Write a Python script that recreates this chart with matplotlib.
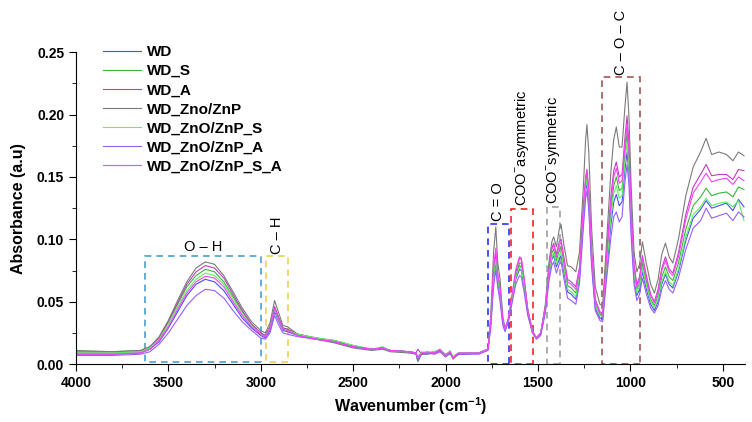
import matplotlib
matplotlib.use("Agg")
import matplotlib.pyplot as plt
from matplotlib.patches import Rectangle
from matplotlib.ticker import MultipleLocator

plt.rcParams['font.family'] = ['Liberation Sans', 'DejaVu Sans']
plt.rcParams['mathtext.fontset'] = 'custom'
plt.rcParams['mathtext.rm'] = 'Liberation Sans'
plt.rcParams['mathtext.bf'] = 'Liberation Sans:bold'

# wavenumber grid (cm-1), grouped by region
wavenumber = (
    [4000, 3800, 3650, 3600, 3550, 3500, 3450, 3400, 3350, 3300, 3250, 3200, 3150, 3100, 3050, 3000]
    + [2975, 2950, 2925, 2905, 2880, 2855, 2800, 2700, 2600, 2500, 2400, 2340, 2300, 2200, 2160, 2150,
       2130, 2100, 2060, 2030, 2000, 1975, 1960, 1930, 1900]
    + [1820, 1770, 1755, 1740, 1728, 1718, 1705, 1690, 1678, 1660, 1640, 1620, 1600, 1590, 1575, 1555,
       1530, 1508]
    + [1485, 1460, 1440, 1425, 1415, 1400, 1385, 1375, 1360, 1340, 1320, 1295, 1275, 1255, 1242, 1235,
       1225, 1210, 1190, 1165, 1150]
    + [1130, 1105, 1090, 1076, 1060, 1045, 1030, 1018, 1008, 995, 980, 965, 950, 935, 915, 890, 870, 850]
    + [830, 810, 790, 770, 740, 700, 660, 620, 590, 560, 520, 480, 445, 415, 385]
)

wd = (
    [.008, .008, .009, .012, .018, .029, .042, .055, .064, .068, .066, .059, .048, .037, .029, .023]
    + [.021, .027, .042, .035, .027, .026, .023, .020, .018, .014, .012, .013, .011, .010, .009, .003,
       .009, .008, .010, .011, .006, .010, .005, .008, .009]
    + [.009, .012, .033, .068, .082, .066, .055, .033, .027, .035, .051, .068, .076, .075, .062, .041,
       .026, .021]
    + [.024, .043, .071, .084, .087, .078, .084, .087, .074, .058, .056, .052, .069, .113, .139, .145,
       .129, .083, .045, .037, .036]
    + [.072, .112, .130, .136, .127, .130, .155, .170, .154, .107, .069, .055, .060, .074, .061, .048, .043, .050]
    + [.064, .072, .064, .061, .074, .099, .117, .124, .131, .125, .127, .129, .123, .132, .126]
)

wd_s = (
    [.010, .010, .011, .014, .021, .034, .048, .062, .071, .076, .074, .066, .054, .042, .032, .025]
    + [.023, .030, .046, .038, .029, .028, .024, .021, .019, .015, .012, .013, .011, .010, .009, .004,
       .009, .009, .010, .011, .008, .010, .006, .009, .009]
    + [.009, .012, .034, .072, .086, .070, .058, .034, .028, .036, .053, .071, .079, .078, .065, .042,
       .026, .021]
    + [.025, .045, .075, .089, .092, .083, .091, .094, .081, .063, .061, .057, .074, .120, .146, .152,
       .136, .088, .049, .040, .039]
    + [.080, .124, .143, .150, .139, .141, .168, .185, .166, .116, .075, .060, .065, .081, .067, .052, .047, .055]
    + [.070, .078, .070, .067, .081, .108, .127, .134, .141, .135, .137, .138, .134, .142, .140]
)

wd_a = (
    [.009, .009, .010, .013, .021, .034, .049, .064, .074, .079, .077, .069, .056, .043, .032, .025]
    + [.023, .030, .046, .038, .029, .028, .024, .021, .018, .014, .012, .013, .011, .010, .009, .012,
       .008, .009, .008, .010, .007, .008, .006, .008, .008]
    + [.009, .012, .035, .075, .090, .072, .060, .035, .028, .036, .054, .074, .085, .084, .068, .043,
       .026, .021]
    + [.025, .046, .078, .093, .097, .088, .098, .100, .086, .068, .066, .062, .078, .125, .150, .156,
       .140, .092, .052, .042, .041]
    + [.085, .135, .155, .162, .150, .152, .180, .199, .178, .125, .080, .064, .070, .087, .072, .056, .050, .060]
    + [.077, .086, .076, .073, .089, .120, .142, .152, .160, .151, .152, .152, .148, .156, .155]
)

wd_zno = (
    [.011, .010, .011, .014, .022, .035, .051, .066, .077, .082, .080, .071, .058, .045, .034, .027]
    + [.025, .033, .051, .042, .031, .030, .024, .020, .017, .013, .011, .012, .010, .009, .008, .002,
       .008, .008, .009, .011, .006, .009, .004, .008, .008]
    + [.009, .012, .040, .090, .110, .082, .068, .038, .029, .036, .052, .070, .081, .081, .068, .044,
       .027, .021]
    + [.025, .048, .082, .098, .102, .094, .108, .112, .096, .079, .078, .074, .090, .140, .180, .192,
       .170, .110, .062, .048, .047]
    + [.095, .155, .180, .190, .174, .174, .205, .226, .200, .140, .090, .074, .080, .098, .082, .064, .057, .068]
    + [.088, .097, .086, .081, .100, .135, .158, .170, .181, .168, .170, .168, .163, .170, .167]
)

wd_zno_s = (
    [.009, .009, .010, .013, .020, .032, .046, .059, .068, .073, .071, .064, .052, .040, .031, .024]
    + [.022, .029, .044, .036, .028, .027, .024, .021, .019, .015, .012, .014, .011, .010, .009, .005,
       .010, .009, .010, .012, .007, .011, .006, .009, .009]
    + [.009, .012, .033, .070, .084, .068, .057, .034, .028, .036, .052, .070, .078, .077, .064, .042,
       .026, .021]
    + [.025, .044, .073, .086, .089, .080, .087, .090, .077, .060, .058, .054, .071, .116, .142, .148,
       .132, .085, .047, .039, .038]
    + [.076, .118, .137, .143, .133, .135, .161, .178, .160, .112, .072, .057, .062, .077, .064, .050, .045, .052]
    + [.066, .074, .066, .063, .076, .102, .120, .126, .133, .127, .129, .130, .126, .131, .115]
)

wd_zno_a = (
    [.007, .007, .008, .010, .016, .025, .036, .047, .055, .060, .059, .053, .043, .034, .027, .021]
    + [.020, .025, .039, .032, .025, .024, .022, .020, .018, .014, .012, .013, .011, .010, .009, .003,
       .008, .009, .009, .010, .006, .009, .005, .008, .008]
    + [.008, .011, .030, .062, .076, .062, .050, .031, .026, .034, .049, .064, .071, .070, .058, .039,
       .025, .020]
    + [.023, .041, .067, .079, .082, .073, .080, .082, .069, .053, .051, .048, .065, .108, .133, .139,
       .124, .079, .043, .035, .034]
    + [.066, .102, .118, .122, .114, .118, .145, .160, .145, .100, .064, .051, .056, .069, .057, .045, .041, .047]
    + [.060, .067, .060, .057, .069, .092, .109, .115, .125, .117, .119, .121, .115, .122, .118]
)

wd_zno_s_a = (
    [.008, .008, .009, .012, .019, .030, .044, .057, .066, .0705, .069, .062, .050, .039, .030, .024]
    + [.022, .029, .045, .037, .028, .027, .023, .020, .018, .014, .012, .013, .011, .010, .009, .006,
       .009, .010, .009, .012, .007, .010, .005, .009, .009]
    + [.009, .012, .036, .078, .093, .073, .061, .035, .028, .037, .056, .076, .086, .085, .069, .043,
       .026, .021]
    + [.025, .045, .076, .092, .096, .086, .095, .098, .084, .066, .064, .060, .076, .122, .148, .154,
       .138, .090, .050, .041, .040]
    + [.083, .130, .150, .157, .145, .147, .174, .192, .172, .120, .078, .062, .068, .085, .070, .055, .049, .058]
    + [.075, .083, .074, .071, .086, .116, .137, .146, .153, .146, .148, .149, .144, .150, .147]
)

series = [
    ("WD", wd, "#4b4bff"),
    ("WD_S", wd_s, "#3cb43c"),
    ("WD_A", wd_a, "#c03cc0"),
    ("WD_Zno/ZnP", wd_zno, "#7a7a7a"),
    ("WD_ZnO/ZnP_S", wd_zno_s, "#5ef05e"),
    ("WD_ZnO/ZnP_A", wd_zno_a, "#9a5cff"),
    ("WD_ZnO/ZnP_S_A", wd_zno_s_a, "#ff40ff"),
]

# band boxes: (label, wn_low, wn_high, y_bottom, y_top, colour, rotated)
bands = [
    ("O – H", 3000, 3627, 0.002, 0.0865, "#4a9fcf", False),
    ("C – H", 2855, 2972, 0.002, 0.0865, "#f0d050", True),
    ("C = O", 1657, 1770, 0.0005, 0.1127, "#3030ff", True),
    ("COO$^{-}$asymmetric", 1527, 1644, 0.0, 0.1247, "#ff2020", True),
    ("COO$^{-}$symmetric", 1383, 1449, 0.0, 0.126, "#a0a0a0", True),
    ("C – O – C", 950, 1153, 0.0005, 0.2297, "#a05858", True),
]

fig = plt.figure(figsize=(7.52, 4.22), dpi=100)
ax = fig.add_axes([0.101, 0.137, 0.8896, 0.7394])

for name, vals, col in series:
    ax.plot(wavenumber, vals, color=col, lw=0.8, label=name)

for label, lo, hi, y0, y1, col, rot in bands:
    ax.add_patch(Rectangle((lo, y0), hi - lo, y1 - y0, fill=False, ec=col,
                           lw=1.2, ls=(0, (4, 3)), clip_on=False))
    xc = (lo + hi) / 2
    if rot:
        ax.text(xc, y1 + 0.002, label, rotation=90, ha="center", va="bottom",
                fontsize=10.5, clip_on=False)
    else:
        ax.text(xc, y1 + 0.002, label, ha="center", va="bottom", fontsize=10.5)

ax.set_xlim(4000, 380)
ax.set_ylim(0, 0.25)
ax.xaxis.set_major_locator(MultipleLocator(500))
ax.xaxis.set_minor_locator(MultipleLocator(250))
ax.yaxis.set_major_locator(MultipleLocator(0.05))
ax.yaxis.set_minor_locator(MultipleLocator(0.025))
ax.tick_params(which="both", direction="out", labelsize=10)
ax.tick_params(which="major", length=5)
ax.tick_params(which="minor", length=3)
for t in ax.get_xticklabels() + ax.get_yticklabels():
    t.set_fontweight("bold")
ax.spines["top"].set_visible(False)
ax.spines["right"].set_visible(False)

ax.set_xlabel(r"Wavenumber (cm$^{\mathbf{-1}}$)", fontsize=11.5, fontweight="bold", labelpad=4)
ax.set_ylabel("Absorbance (a.u)", fontsize=11.5, fontweight="bold", labelpad=8)

leg = ax.legend(loc="upper left", bbox_to_anchor=(0.137, 0.893), bbox_transform=fig.transFigure,
                frameon=False, fontsize=11, handlelength=2.5, handletextpad=0.4,
                labelspacing=0.33, borderpad=0, borderaxespad=0)
for t in leg.get_texts():
    t.set_fontweight("bold")

fig.savefig("out.png", dpi=100)
